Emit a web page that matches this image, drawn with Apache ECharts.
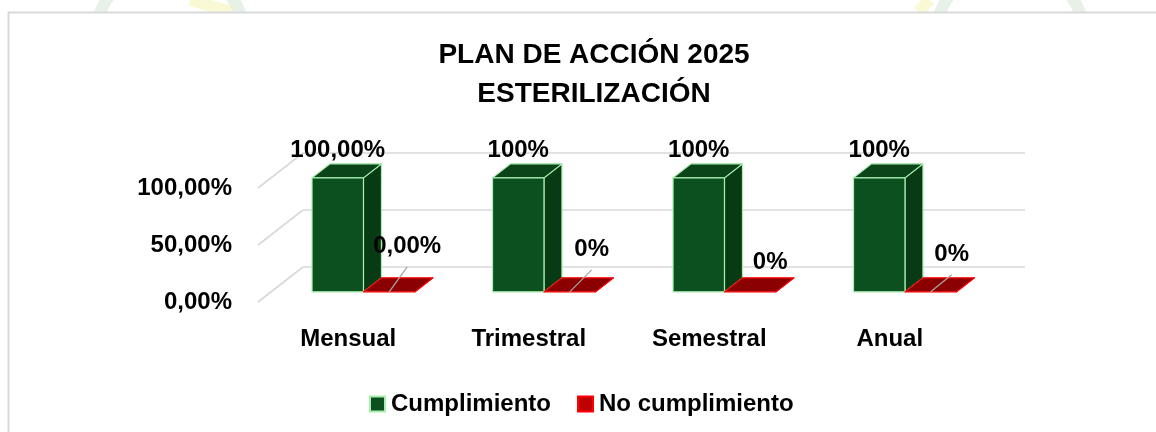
<!DOCTYPE html>
<html>
<head>
<meta charset="utf-8">
<style>
html,body{margin:0;padding:0;background:#fff;}
#chart{width:1156px;height:432px;}
</style>
<script src="https://cdn.jsdelivr.net/npm/echarts@6/dist/echarts.min.js"></script>
</head>
<body>
<div id="chart"></div>
<script>
// ---- data ----
const categories = ['Mensual', 'Trimestral', 'Semestral', 'Anual'];
const cumplimiento = [100, 100, 100, 100];
const noCumplimiento = [0, 0, 0, 0];
const cumplimientoLabels = ['100,00%', '100%', '100%', '100%'];
const noCumplimientoLabels = ['0,00%', '0%', '0%', '0%'];
const yTicks = [0, 50, 100];
const seriesNames = ['Cumplimiento', 'No cumplimiento'];

// ---- style ----
const FONT = "'Liberation Sans',Arial,Helvetica,sans-serif";
const LBL = 24;
const DEPTH = [-45, 35];          // back wall -> front edge of floor
const F_FRONT = 0.71, F_BACK = 0.31;
const BAR_FRAC = 0.285, GROUP_OFF = -0.273;
const redLabelNudge = [[18, -45], [22, -42], [20, -29], [21, -37]];

const styles = [
  {front: '#0d5020', top: '#0a4418', side: '#083a14', edge: '#a8eeb0'},
  {front: '#8b0000', top: '#8b0000', side: '#700000', edge: '#ff0000'}
];

function barRender(sIdx, labels) {
  return function (params, api) {
    const i = api.value(0), v = api.value(1);
    const base = api.coord([i, 0]);
    const topP = api.coord([i, v]);
    const band = api.size([1, 0])[0];
    const w = band * BAR_FRAC;
    const fx = DEPTH[0] * F_FRONT, fy = DEPTH[1] * F_FRONT;
    const bx = DEPTH[0] * F_BACK, by = DEPTH[1] * F_BACK;
    const dx = bx - fx, dy = by - fy;
    const x0 = base[0] + band * GROUP_OFF + sIdx * w + fx;
    const yb = base[1] + fy, yt = topP[1] + fy;
    const st = styles[sIdx];
    const edge = {stroke: st.edge, lineWidth: 1.2, lineJoin: 'round'};
    const children = [];
    children.push({type: 'polygon', shape: {points: [[x0 + w, yt], [x0 + w + dx, yt + dy], [x0 + w + dx, yb + dy], [x0 + w, yb]]},
      style: Object.assign({fill: st.side}, edge)});
    children.push({type: 'polygon', shape: {points: [[x0, yt], [x0 + w, yt], [x0 + w + dx, yt + dy], [x0 + dx, yt + dy]]},
      style: Object.assign({fill: st.top}, edge)});
    if (yb - yt > 0.5) {
      children.push({type: 'rect', shape: {x: x0, y: yt, width: w, height: yb - yt},
        style: Object.assign({fill: st.front}, edge)});
    }
    const cx = x0 + w / 2;
    if (sIdx === 0) {
      children.push({type: 'text', x: cx, y: yt - 27, style: {text: labels[i], font: 'bold ' + LBL + 'px ' + FONT,
        fill: '#000', align: 'center', verticalAlign: 'middle'}});
    } else {
      const lx = cx + redLabelNudge[i][0], ly = yb + redLabelNudge[i][1];
      if (yb - (ly + 20) > 12) {
        children.push({type: 'line', shape: {x1: lx, y1: ly + 20, x2: cx, y2: yb},
          style: {stroke: '#a6a6a6', lineWidth: 1.3}});
      }
      children.push({type: 'text', x: lx, y: ly, style: {text: labels[i], font: 'bold ' + LBL + 'px ' + FONT,
        fill: '#000', align: 'center', verticalAlign: 'middle'}});
    }
    return {type: 'group', children: children};
  };
}

function wallRender(params, api) {
  const v = api.value(0);
  const p = api.coord([0, v]);
  const x = params.coordSys.x;
  return {type: 'line', shape: {x1: x, y1: p[1], x2: x + DEPTH[0], y2: p[1] + DEPTH[1]},
    style: {stroke: '#d9d9d9', lineWidth: 1.6}};
}

const chart = echarts.init(document.getElementById('chart'), null, {renderer: 'canvas'});
const option = {
  backgroundColor: '#ffffff',
  animation: false,
  graphic: [
    {type: 'arc', shape: {cx: 170, cy: 40, r: 75, startAngle: Math.PI * 1.05, endAngle: Math.PI * 1.95}, style: {stroke: 'rgba(120,180,130,0.18)', lineWidth: 12, fill: null}, z: -10},
    {type: 'line', shape: {x1: 190, y1: 0, x2: 232, y2: 12}, style: {stroke: 'rgba(240,235,120,0.3)', lineWidth: 12}, z: -10},
    {type: 'arc', shape: {cx: 1010, cy: 40, r: 75, startAngle: Math.PI * 1.05, endAngle: Math.PI * 1.95}, style: {stroke: 'rgba(120,180,130,0.18)', lineWidth: 12, fill: null}, z: -10},
    {type: 'line', shape: {x1: 930, y1: 0, x2: 918, y2: 12}, style: {stroke: 'rgba(240,235,120,0.3)', lineWidth: 12}, z: -10},
    {type: 'rect', shape: {x: 8.5, y: 12.5, width: 1300, height: 600}, style: {fill: '#ffffff', stroke: '#d9d9d9', lineWidth: 2}, z: -5}
  ],
  title: {
    text: 'PLAN DE ACCIÓN 2025\nESTERILIZACIÓN',
    left: 589, top: 31, textAlign: 'center',
    textStyle: {fontFamily: FONT, fontWeight: 'bold', fontSize: 28, lineHeight: 39, color: '#000'}
  },
  legend: {
    data: seriesNames,
    left: 364, top: 387,
    icon: 'rect', itemWidth: 15, itemHeight: 15, itemGap: 26,
    textStyle: {fontFamily: FONT, fontWeight: 'bold', fontSize: LBL, color: '#000', padding: [0, 0, 0, 1]}
  },
  grid: [
    {left: 303, right: 131, top: 153, bottom: 165},
    {left: 258, right: 176, top: 188, bottom: 130}
  ],
  xAxis: [
    {type: 'category', data: categories, gridIndex: 0, axisLine: {show: false}, axisTick: {show: false}, axisLabel: {show: false}},
    {type: 'category', data: categories, gridIndex: 1, axisLine: {show: false}, axisTick: {show: false},
      axisLabel: {margin: 25, fontFamily: FONT, fontWeight: 'bold', fontSize: LBL, color: '#000'}}
  ],
  yAxis: [
    {type: 'value', gridIndex: 0, min: yTicks[0], max: yTicks[yTicks.length - 1], interval: yTicks[1] - yTicks[0],
      axisLine: {show: false}, axisTick: {show: false}, axisLabel: {show: false},
      splitLine: {lineStyle: {color: '#d9d9d9', width: 1.6}}},
    {type: 'value', gridIndex: 1, min: yTicks[0], max: yTicks[yTicks.length - 1], interval: yTicks[1] - yTicks[0],
      axisLine: {show: false}, axisTick: {show: false}, splitLine: {show: false},
      axisLabel: {margin: 26, fontFamily: FONT, fontWeight: 'bold', fontSize: LBL, color: '#000',
        formatter: v => v.toFixed(2).replace('.', ',') + '%'}}
  ],
  series: [
    {type: 'custom', name: 'wall', xAxisIndex: 0, yAxisIndex: 0, data: yTicks.map(v => [v]), renderItem: wallRender, silent: true, z: 1},
    {type: 'custom', name: seriesNames[0], xAxisIndex: 0, yAxisIndex: 0,
      itemStyle: {color: '#0d5020', borderColor: '#a8eeb0', borderWidth: 1.5},
      data: cumplimiento.map((v, i) => [i, v]), renderItem: barRender(0, cumplimientoLabels), z: 3},
    {type: 'custom', name: seriesNames[1], xAxisIndex: 0, yAxisIndex: 0,
      itemStyle: {color: '#c00000', borderColor: '#ff0000', borderWidth: 1.5},
      data: noCumplimiento.map((v, i) => [i, v]), renderItem: barRender(1, noCumplimientoLabels), z: 4}
  ]
};
chart.setOption(option);
</script>
</body>
</html>
